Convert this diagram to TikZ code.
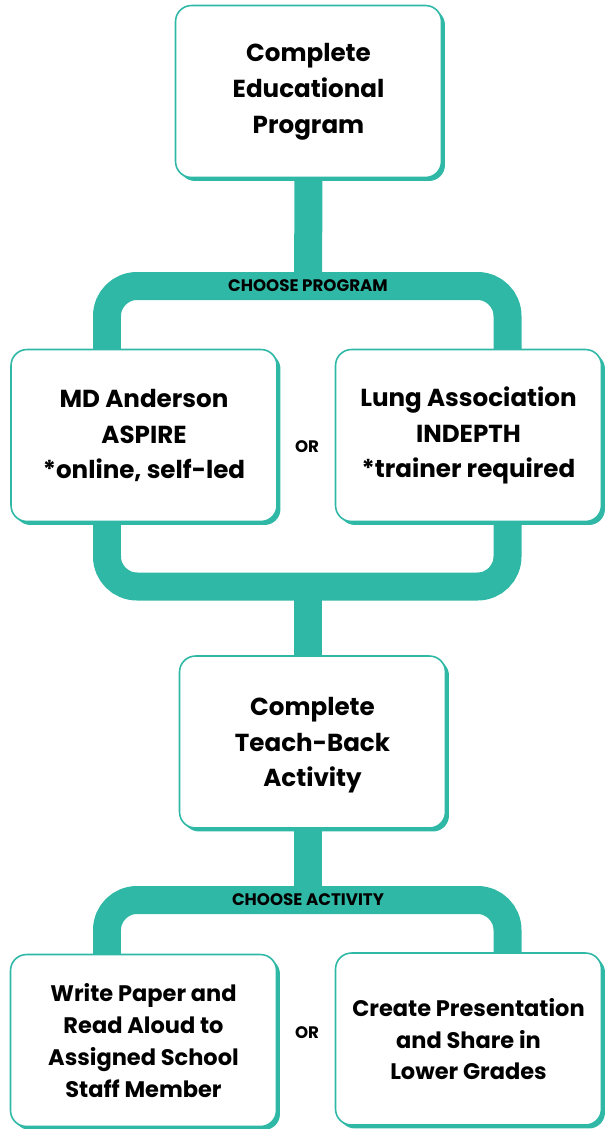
\documentclass[tikz,border=0pt]{standalone}
\usepackage{fontspec}
\setmainfont{Poppins}
\usetikzlibrary{positioning, shadows, backgrounds}
\definecolor{teal}{RGB}{47,184,166}
\tikzset{
x=0.02cm, y=-0.02cm, % one unit is one pixel of the layout
stepbox/.style={draw=teal, line width=0.9pt, fill=white, rounded corners=0.32cm,
  minimum width=5.32cm, minimum height=3.44cm, align=center,
  font=\fontsize{14}{20.4}\selectfont\bfseries,
  drop shadow={fill=teal, opacity=1, shadow xshift=0.07cm, shadow yshift=-0.07cm}}, % boxes
smallbox/.style={stepbox, text depth=0pt, font=\fontsize{12.8}{18.2}\selectfont\bfseries}, % last row
link/.style={draw=teal, line width=0.56cm, rounded corners=0.6cm}, % thick connectors
lbl/.style={font=\fontsize{9.5}{11}\selectfont\bfseries, inner sep=0pt}, % small caps labels
}
\begin{document}
\begin{tikzpicture}
\useasboundingbox (0,0) rectangle (605,1129);

\node[stepbox] (prog) at (308.5,91.5) {Complete\\Educational\\Program};
\node[stepbox] (mda) at (144,435.5) {MD Anderson\\ASPIRE\\*online, self-led};
\node[stepbox] (lung) at (468.5,435.5) {Lung Association\\INDEPTH\\*trainer required};
\node[stepbox, text depth=0pt] (teach) at (312.5,742) {Complete\\Teach-Back\\Activity};
\node[smallbox] (paper) at (143.5,1040.5) {Write Paper and\\Read Aloud to\\Assigned School\\Staff Member};
\node[smallbox] (present) at (468.5,1039) {Create Presentation\\and Share in\\Lower Grades};

\coordinate (split1) at (308,286);
\coordinate (split2) at (308,586.5);
\coordinate (split3) at (308,900);
\coordinate (mdaIn) at (107,435);
\coordinate (lungIn) at (507.5,435);
\coordinate (paperIn) at (107,1040);
\coordinate (presentIn) at (507.5,1040);

\begin{pgfonlayer}{background}
\draw[link] (prog.south) -- (split1);
\draw[link] (mdaIn) |- (split1) -| (lungIn);
\draw[link] (mdaIn) |- (split2) -| (lungIn);
\draw[link] (split2) -- (split2 |- teach.north);
\draw[link] (split3 |- teach.south) -- (split3);
\draw[link] (paperIn) |- (split3) -| (presentIn);
\end{pgfonlayer}

\node[lbl] (choose1) at (split1) {CHOOSE PROGRAM};
\node[lbl] (choose2) at (split3) {CHOOSE ACTIVITY};
\node[lbl] (or1) at (307,447) {OR};
\node[lbl] (or2) at (307,1033) {OR};
\end{tikzpicture}
\end{document}
